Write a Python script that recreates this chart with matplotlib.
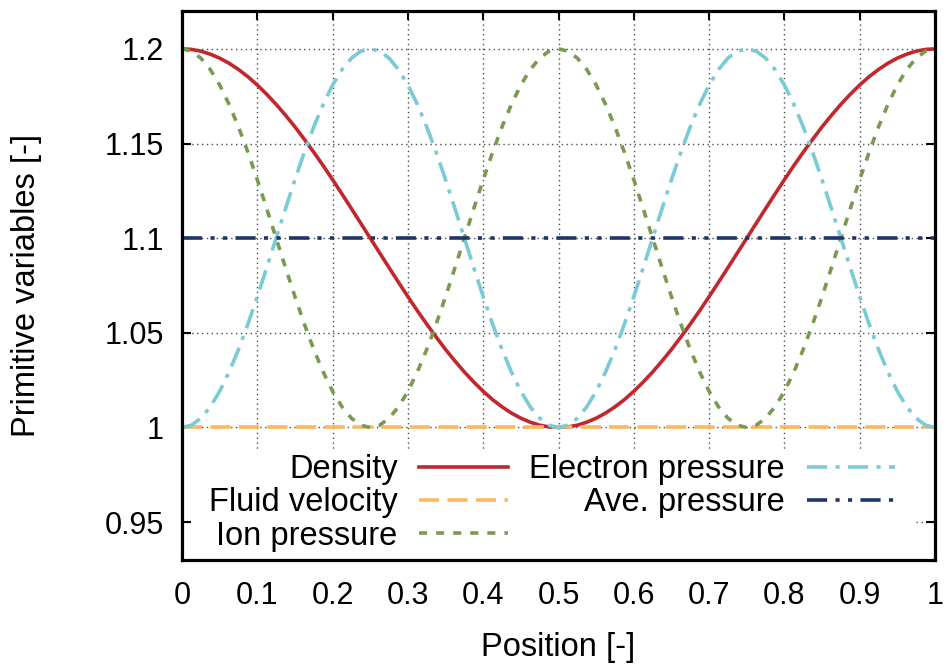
import matplotlib
matplotlib.use("Agg")
import matplotlib.pyplot as plt
from matplotlib.patches import Rectangle

plt.rcParams['font.family'] = ['Liberation Sans', 'DejaVu Sans']
plt.rcParams['lines.scale_dashes'] = False

# ---------------- data ----------------
position = [i * 0.0125 for i in range(81)]

density = [1.2000, 1.1997, 1.1988, 1.1972, 1.1951, 1.1924, 1.1891, 1.1853, 1.1809, 1.1760,
           1.1707, 1.1649, 1.1588, 1.1522, 1.1454, 1.1383, 1.1309, 1.1233, 1.1156, 1.1078,
           1.1000, 1.0922, 1.0844, 1.0767, 1.0691, 1.0617, 1.0546, 1.0478, 1.0412, 1.0351,
           1.0293, 1.0240, 1.0191, 1.0147, 1.0109, 1.0076, 1.0049, 1.0028, 1.0012, 1.0003,
           1.0000,
           1.0003, 1.0012, 1.0028, 1.0049, 1.0076, 1.0109, 1.0147, 1.0191, 1.0240, 1.0293,
           1.0351, 1.0412, 1.0478, 1.0546, 1.0617, 1.0691, 1.0767, 1.0844, 1.0922, 1.1000,
           1.1078, 1.1156, 1.1233, 1.1309, 1.1383, 1.1454, 1.1522, 1.1588, 1.1649, 1.1707,
           1.1760, 1.1809, 1.1853, 1.1891, 1.1924, 1.1951, 1.1972, 1.1988, 1.1997, 1.2000]

ion_pressure = [1.2000, 1.1988, 1.1951, 1.1891, 1.1809, 1.1707, 1.1588, 1.1454, 1.1309, 1.1156,
                1.1000, 1.0844, 1.0691, 1.0546, 1.0412, 1.0293, 1.0191, 1.0109, 1.0049, 1.0012,
                1.0000, 1.0012, 1.0049, 1.0109, 1.0191, 1.0293, 1.0412, 1.0546, 1.0691, 1.0844,
                1.1000, 1.1156, 1.1309, 1.1454, 1.1588, 1.1707, 1.1809, 1.1891, 1.1951, 1.1988,
                1.2000,
                1.1988, 1.1951, 1.1891, 1.1809, 1.1707, 1.1588, 1.1454, 1.1309, 1.1156, 1.1000,
                1.0844, 1.0691, 1.0546, 1.0412, 1.0293, 1.0191, 1.0109, 1.0049, 1.0012, 1.0000,
                1.0012, 1.0049, 1.0109, 1.0191, 1.0293, 1.0412, 1.0546, 1.0691, 1.0844, 1.1000,
                1.1156, 1.1309, 1.1454, 1.1588, 1.1707, 1.1809, 1.1891, 1.1951, 1.1988, 1.2000]

electron_pressure = [1.0000, 1.0012, 1.0049, 1.0109, 1.0191, 1.0293, 1.0412, 1.0546, 1.0691, 1.0844,
                     1.1000, 1.1156, 1.1309, 1.1454, 1.1588, 1.1707, 1.1809, 1.1891, 1.1951, 1.1988,
                     1.2000, 1.1988, 1.1951, 1.1891, 1.1809, 1.1707, 1.1588, 1.1454, 1.1309, 1.1156,
                     1.1000, 1.0844, 1.0691, 1.0546, 1.0412, 1.0293, 1.0191, 1.0109, 1.0049, 1.0012,
                     1.0000,
                     1.0012, 1.0049, 1.0109, 1.0191, 1.0293, 1.0412, 1.0546, 1.0691, 1.0844, 1.1000,
                     1.1156, 1.1309, 1.1454, 1.1588, 1.1707, 1.1809, 1.1891, 1.1951, 1.1988, 1.2000,
                     1.1988, 1.1951, 1.1891, 1.1809, 1.1707, 1.1588, 1.1454, 1.1309, 1.1156, 1.1000,
                     1.0844, 1.0691, 1.0546, 1.0412, 1.0293, 1.0191, 1.0109, 1.0049, 1.0012, 1.0000]

const_position = [0.0, 1.0]
fluid_velocity = [1.0, 1.0]
ave_pressure = [1.1, 1.1]

xticks = [0, 0.1, 0.2, 0.3, 0.4, 0.5, 0.6, 0.7, 0.8, 0.9, 1.0]
xticklabels = ['0', '0.1', '0.2', '0.3', '0.4', '0.5', '0.6', '0.7', '0.8', '0.9', '1']
yticks = [0.95, 1.0, 1.05, 1.1, 1.15, 1.2]
yticklabels = ['0.95', '1', '1.05', '1.1', '1.15', '1.2']

# ---------------- figure ----------------
W, H = 948, 666
fig = plt.figure(figsize=(W / 100, H / 100), dpi=100)
L, R, T, B = 182, 935, 11, 560
ax = fig.add_axes([L / W, 1 - B / H, (R - L) / W, (B - T) / H])

lw = 2.6
common = dict(lw=lw, solid_joinstyle='round', dash_joinstyle='round')
ax.plot(position, density, color='#c0282d', label='Density', **common)
ax.plot(const_position, fluid_velocity, color='#fdb760',
        dashes=(14.5, 6), label='Fluid velocity', **common)
ax.plot(position, ion_pressure, color='#7a9a52',
        dashes=(5.8, 6.5), label='Ion pressure', **common)
ax.plot(position, electron_pressure, color='#7acbd3',
        dashes=(14.5, 6, 3, 6), label='Electron pressure', **common)
ax.plot(const_position, ave_pressure, color='#1f3468',
        dashes=(14.5, 6, 3, 6, 3, 6), label='Ave. pressure', **common)

ax.set_xlim(0, 1)
ax.set_ylim(0.93, 1.22)
ax.set_xticks(xticks)
ax.set_xticklabels(xticklabels)
ax.set_yticks(yticks)
ax.set_yticklabels(yticklabels)

ax.set_axisbelow(True)
ax.grid(True, color='#4a4a4a', lw=1.0, dashes=(1.0, 2.5), zorder=0.5)

ax.tick_params(axis='both', which='major', direction='in', length=6.5, width=1.5,
               top=True, right=True, labelsize=22, colors='black')
ax.tick_params(axis='x', pad=15)
ax.tick_params(axis='y', pad=13)
for s in ax.spines.values():
    s.set_linewidth(2.3)
    s.set_zorder(3)

ax.set_xlabel('Position [-]', fontsize=23.5, labelpad=15)
ax.set_ylabel('Primitive variables [-]', fontsize=23.5, labelpad=45)

# white key background (gnuplot opaque key)
kx0 = (192 - L) / (R - L)
kx1 = (915 - L) / (R - L)
ky1 = (B - 452) / (B - T)
ax.add_patch(Rectangle((kx0, 0), kx1 - kx0, ky1, transform=ax.transAxes,
                       facecolor='white', edgecolor='none', zorder=1.5))

leg = ax.legend(ncol=2, markerfirst=False, loc='upper right',
                bbox_to_anchor=((895 - L) / (R - L), (B - 454) / (B - T)),
                frameon=False, fontsize=23.5, handlelength=2.7, handletextpad=0.67,
                columnspacing=0.67, labelspacing=0.07, borderpad=0.0,
                borderaxespad=0.0)
leg.set_zorder(2.2)

fig.savefig('out.png', dpi=100)
